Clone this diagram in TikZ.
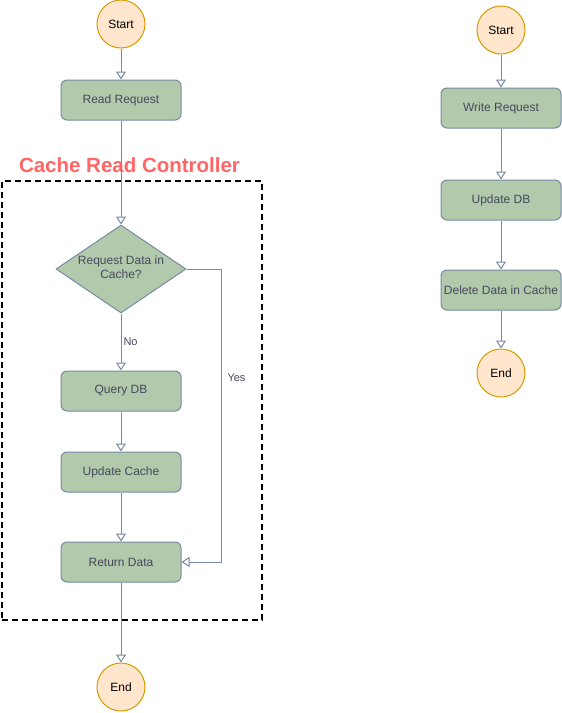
\documentclass[tikz,border=0pt]{standalone}
\usepackage{fontspec}
\setmainfont{Liberation Sans}
\usetikzlibrary{shapes.geometric,arrows.meta}
\definecolor{boxfill}{HTML}{B2C9AB}
\definecolor{boxline}{HTML}{788AA3}
\definecolor{boxtext}{HTML}{46495D}
\definecolor{termfill}{HTML}{FFE6CC}
\definecolor{termline}{HTML}{D79B00}
\definecolor{titlered}{HTML}{FF6666}
\begin{document}
\begin{tikzpicture}[x=1pt,y=-1pt,
  every node/.style={font=\fontsize{12}{14}\selectfont},
  proc/.style={rectangle, rounded corners=6pt, minimum width=120pt, minimum height=40pt, inner sep=0pt, fill=boxfill, draw=boxline, line width=1pt, text=boxtext},
  term/.style={circle, minimum size=48pt, inner sep=0pt, fill=termfill, draw=termline, line width=1pt, text=black},
  decision/.style={diamond, minimum width=130pt, minimum height=88pt, inner sep=0pt, fill=boxfill, draw=boxline, line width=1pt},
  conn/.style={draw=boxline, line width=1pt, -{Triangle[open, length=8pt, width=10pt]}},
  lbl/.style={text=boxtext, inner sep=2pt, font=\fontsize{11}{13}\selectfont},
  grp/.style={draw=black, line width=1.6pt, dash pattern=on 6pt off 4pt, minimum width=260pt, minimum height=439pt, inner sep=0pt}
]
\useasboundingbox (0,0) rectangle (562,713);
\fill[white] (0,0) rectangle (562,713);

% group container
\node[grp] (group) at (132,400.5) {};
\node[font=\bfseries\fontsize{20.5}{23}\selectfont, text=titlered] (title) at (129.5,165) {Cache Read Controller};

% left flow
\node[term] (s1) at (121,24) {Start};
\node[proc] (rr) at (121,100) {Read Request};
\node[decision] (dia) at (121,269) {};
\node[align=center, text=boxtext, inner sep=0pt] (dialabel) at (121,267.5) {Request Data in\\Cache?};
\node[proc] (qdb) at (121,391) {Query DB};
\node[proc] (uc) at (121,472) {Update Cache};
\node[proc] (ret) at (121,562) {Return Data};
\node[term] (e1) at (121,687) {End};
\coordinate (yescorner) at (221,269);

\draw[conn] (s1) -- (rr);
\draw[conn] (rr) -- (dia);
\draw[conn] (dia) -- node[lbl, pos=0.5, anchor=west] {No} (qdb);
\draw[conn] (qdb) -- (uc);
\draw[conn] (uc) -- (ret);
\draw[conn] (dia.east) -- (yescorner) |- node[lbl, pos=0.186, anchor=west, xshift=4pt] {Yes} (ret.east);
\draw[conn] (ret) -- (e1);

% right flow
\node[term] (s2) at (501,30) {Start};
\node[proc] (wr) at (501,108) {Write Request};
\node[proc] (udb) at (501,200) {Update DB};
\node[proc] (del) at (501,290) {Delete Data in Cache};
\node[term] (e2) at (501,373) {End};

\draw[conn] (s2) -- (wr);
\draw[conn] (wr) -- (udb);
\draw[conn] (udb) -- (del);
\draw[conn] (del) -- (e2);
\end{tikzpicture}
\end{document}
